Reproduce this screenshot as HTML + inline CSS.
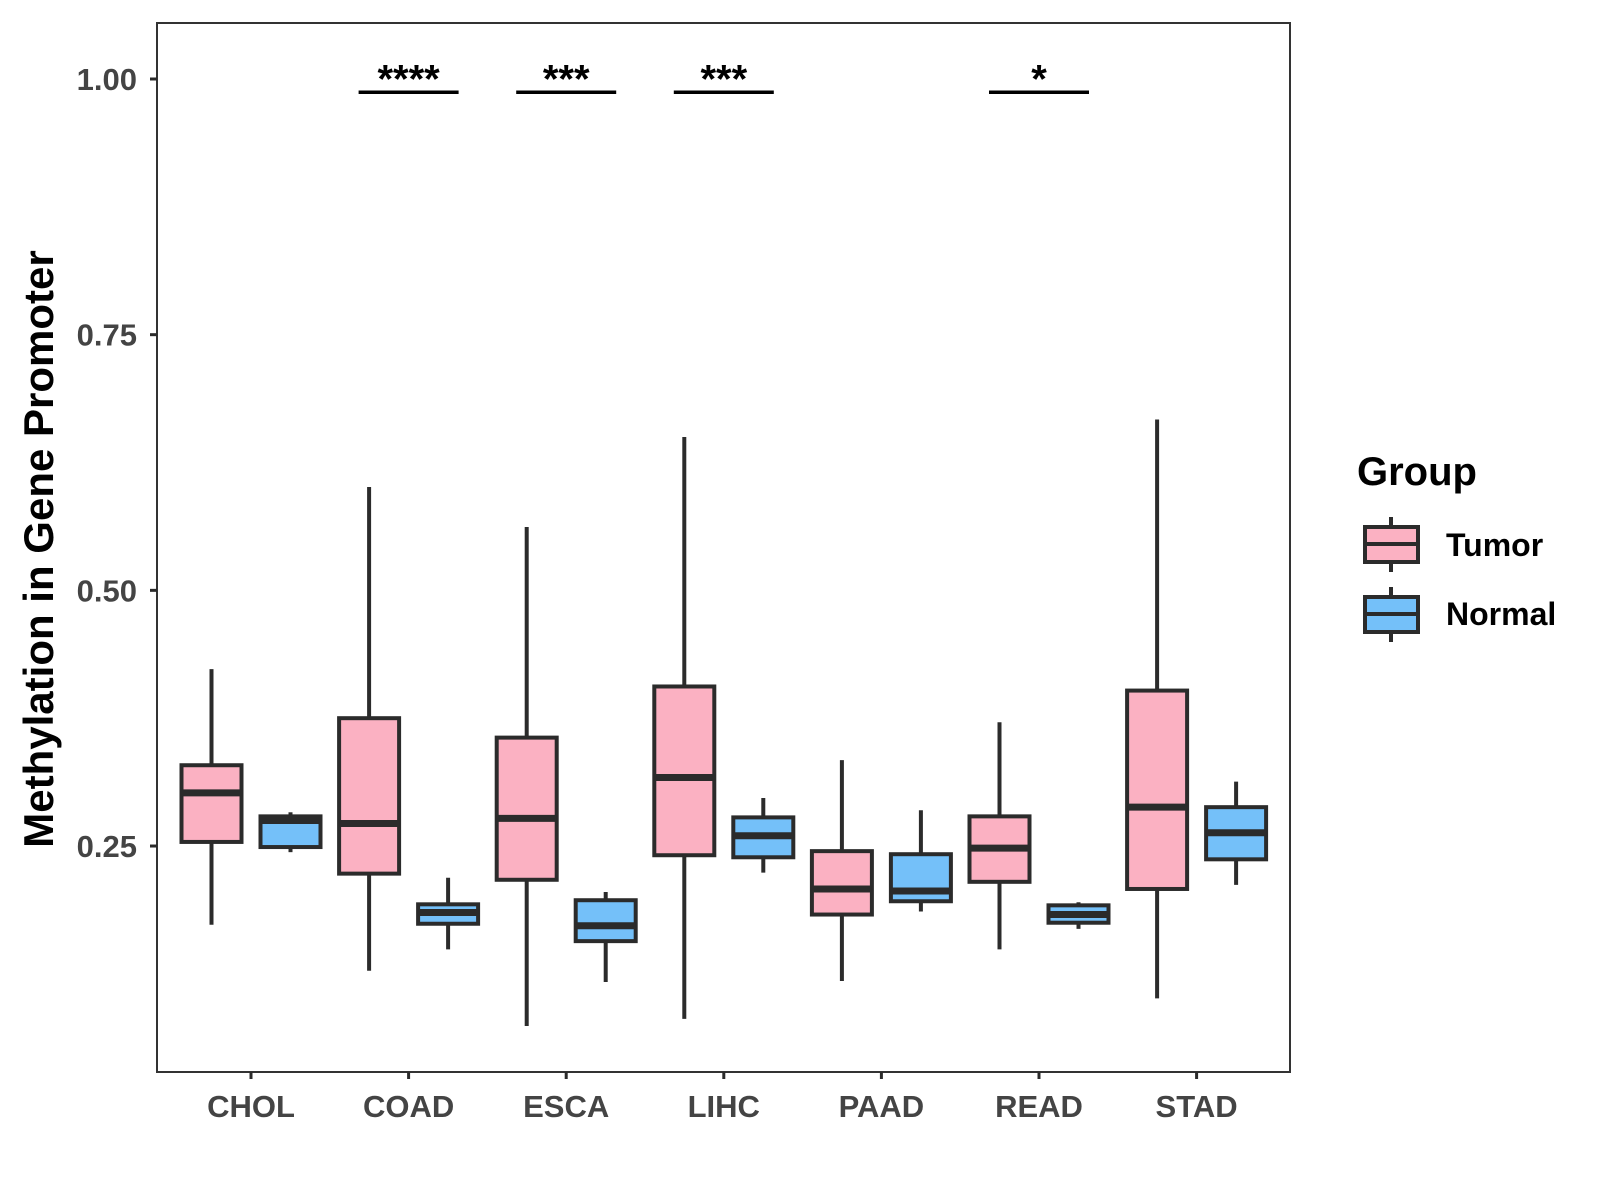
<!DOCTYPE html>
<html><head><meta charset="utf-8"><style>
html,body{margin:0;padding:0;background:#fff;}
svg{display:block;font-family:"Liberation Sans",Arial,sans-serif;}
</style></head><body>
<svg id="chart" width="1600" height="1200" viewBox="0 0 1600 1200" xmlns="http://www.w3.org/2000/svg">
<rect x="157" y="23" width="1133" height="1049" fill="#fff" stroke="#333" stroke-width="2"/>
<g id="marks"></g>
<text transform="translate(53,549) rotate(-90)" text-anchor="middle" font-size="42" font-weight="bold" fill="#000">Methylation in Gene Promoter</text>
<g>
<text x="1357" y="485" font-size="40" font-weight="bold">Group</text>
<g>
<line x1="1391" x2="1391" y1="517" y2="572" stroke="#2b2b2b" stroke-width="4"/>
<rect x="1365" y="527" width="53" height="35" fill="#FBB1C2" stroke="#2b2b2b" stroke-width="4"/>
<line x1="1365" x2="1418" y1="544" y2="544" stroke="#2b2b2b" stroke-width="4"/>
<text x="1446" y="556" font-size="32" font-weight="bold">Tumor</text></g>
<g>
<line x1="1391" x2="1391" y1="587" y2="642" stroke="#2b2b2b" stroke-width="4"/>
<rect x="1365" y="597" width="53" height="35" fill="#74C0F9" stroke="#2b2b2b" stroke-width="4"/>
<line x1="1365" x2="1418" y1="614" y2="614" stroke="#2b2b2b" stroke-width="4"/>
<text x="1446" y="625" font-size="32" font-weight="bold">Normal</text></g>
</g>
</svg>
<script>
const categories = ["CHOL","COAD","ESCA","LIHC","PAAD","READ","STAD"];
const tumorLow   = [0.173,0.128,0.074,0.081,0.118,0.149,0.101];
const tumorQ1    = [0.254,0.223,0.217,0.241,0.183,0.215,0.208];
const tumorMed   = [0.302,0.272,0.277,0.317,0.208,0.248,0.288];
const tumorQ3    = [0.329,0.375,0.356,0.406,0.245,0.279,0.402];
const tumorHigh  = [0.423,0.601,0.562,0.650,0.334,0.371,0.667];
const normalLow  = [0.244,0.149,0.117,0.224,0.186,0.169,0.212];
const normalQ1   = [0.249,0.174,0.157,0.239,0.196,0.175,0.237];
const normalMed  = [0.275,0.185,0.172,0.260,0.206,0.183,0.263];
const normalQ3   = [0.279,0.193,0.197,0.278,0.242,0.192,0.288];
const normalHigh = [0.283,0.219,0.205,0.297,0.285,0.195,0.313];
const yTicks = [0.25,0.5,0.75,1.0];
const yTickLabels = ["0.25","0.50","0.75","1.00"];
const sigCategories = ["COAD","ESCA","LIHC","READ"];
const sigLabels = ["****","***","***","*"];
const sigLevel = 0.987;

const NS="http://www.w3.org/2000/svg";
const svg=document.getElementById('chart');
const g=document.getElementById('marks');
function y(v){return 79+(1-v)*1022.7;}
function x(i){return 251+157.6*i;}
function mk(tag,attrs,parent){const e=document.createElementNS(NS,tag);for(const k in attrs)e.setAttribute(k,attrs[k]);(parent||g).appendChild(e);return e;}
const dark="#2b2b2b";
yTicks.forEach((t,i)=>{
  const tk=mk('line',{x1:150,x2:157,y1:y(t),y2:y(t),stroke:dark,'stroke-width':3},svg);
  
  
  const tl=mk('text',{x:137,y:y(t)+11,'text-anchor':'end','font-size':31,'font-weight':'bold',fill:'#444'},svg);
  tl.textContent=yTickLabels[i];
  
  
});
categories.forEach((c,i)=>{
  const tk=mk('line',{x1:x(i),x2:x(i),y1:1072,y2:1079,stroke:dark,'stroke-width':3},svg);
  
  
  const tl=mk('text',{x:x(i),y:1117,'text-anchor':'middle','font-size':31,'font-weight':'bold',fill:'#444'},svg);
  tl.textContent=c;
  
  
});
function box(cx,lo,q1,md,q3,hi,fill,name){
  const grp=mk('g',{});
  
  
  mk('line',{x1:cx,x2:cx,y1:y(hi),y2:y(lo),stroke:dark,'stroke-width':4},grp);
  mk('rect',{x:cx-30,y:y(q3),width:60,height:y(q1)-y(q3),fill:fill,stroke:dark,'stroke-width':4},grp);
  mk('line',{x1:cx-30,x2:cx+30,y1:y(md),y2:y(md),stroke:dark,'stroke-width':7},grp);
}
categories.forEach((c,i)=>{
  box(x(i)-39.5,tumorLow[i],tumorQ1[i],tumorMed[i],tumorQ3[i],tumorHigh[i],'#FBB1C2','box-tumor-'+c.toLowerCase());
  box(x(i)+39.5,normalLow[i],normalQ1[i],normalMed[i],normalQ3[i],normalHigh[i],'#74C0F9','box-normal-'+c.toLowerCase());
});
sigCategories.forEach((c,j)=>{
  const i=categories.indexOf(c);
  const ln=mk('line',{x1:x(i)-50,x2:x(i)+50,y1:y(sigLevel),y2:y(sigLevel),stroke:'#000','stroke-width':3.5});
  
  
  const t=mk('text',{x:x(i),y:y(sigLevel)+0,'text-anchor':'middle','font-size':40,'font-weight':'bold',fill:'#000'});
  t.textContent=sigLabels[j];
  
  
});
</script>
</body></html>
